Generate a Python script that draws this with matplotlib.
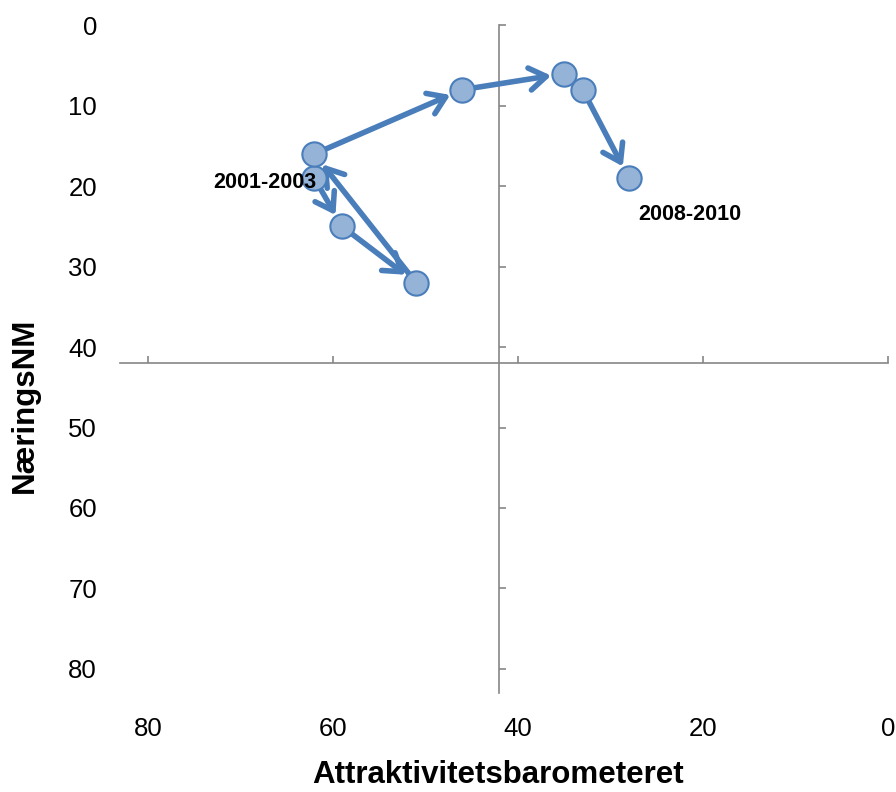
import matplotlib
matplotlib.use('Agg')
import matplotlib.pyplot as plt
import numpy as np

plt.rcParams['font.family'] = ['Liberation Sans', 'DejaVu Sans']

# ── Data ───────────────────────────────────────────────────────────────────────
periods       = ['2001-2003', '2002-2004', '2003-2005', '2004-2006',
                 '2005-2007', '2006-2008', '2007-2009', '2008-2010']
attraktivitet = [62, 59, 51, 62, 46, 35, 33, 28]
naering       = [19, 25, 32, 16, 8, 6, 8, 19]
labelled      = ['2001-2003', '2008-2010']

x_ticks = [80, 60, 40, 20, 0]
y_ticks = [0, 10, 20, 30, 40, 50, 60, 70, 80]
CROSS   = 42          # where the two axes cross
LIM     = 83

LINE = '#4A7EBB'
FILL = '#95B3D7'
AXIS = '#868686'
MS   = 17.5           # marker size (pt)

# ── Figure ─────────────────────────────────────────────────────────────────────
fig = plt.figure(figsize=(8.96, 7.92), dpi=100)
rect = [120 / 896, 1 - 693 / 792, 768 / 896, 667.7 / 792]

# base axes: only carries the tick labels (Excel "low" position)
ax = fig.add_axes(rect)
ax.set_xlim(LIM, 0)
ax.set_ylim(LIM, 0)
ax.set_xticks(x_ticks)
ax.set_yticks(y_ticks)
for s in ax.spines.values():
    s.set_visible(False)
ax.tick_params(axis='both', length=0, labelsize=18.5, labelcolor='black')
ax.tick_params(axis='x', pad=17)
ax.tick_params(axis='y', pad=16.5)

ax.set_xlabel('Attraktivitetsbarometeret', fontsize=22.5, fontweight='bold', va='center')
ax.xaxis.set_label_coords(0.492, -0.123)
ax.set_ylabel('NæringsNM', fontsize=22.5, fontweight='bold', va='center')
ax.yaxis.set_label_coords(-0.124, 0.431)

# overlay axes: crossing axis lines with tick marks, and the data
axc = fig.add_axes(rect, sharex=ax, sharey=ax)
axc.patch.set_visible(False)
axc.spines['top'].set_visible(False)
axc.spines['right'].set_visible(False)
for side in ['left', 'bottom']:
    axc.spines[side].set_position(('data', CROSS))
    axc.spines[side].set_color(AXIS)
    axc.spines[side].set_linewidth(1.2)
axc.tick_params(axis='both', direction='in', length=5, width=1.2, color=AXIS,
                labelleft=False, labelbottom=False)

# arrows between consecutive periods; too-short segments get no head
shrink = MS / 2 + 0.75
pts = axc.transData.transform(np.column_stack([attraktivitet, naering]))
for i in range(len(periods) - 1):
    dist_pt = np.hypot(*(pts[i + 1] - pts[i])) * 72 / fig.dpi
    style = '->,head_length=0.6,head_width=0.4' if dist_pt > 2 * shrink + 8 else '-'
    axc.annotate('', xy=(attraktivitet[i + 1], naering[i + 1]),
                 xytext=(attraktivitet[i], naering[i]),
                 arrowprops=dict(arrowstyle=style, color=LINE, lw=4,
                                 shrinkA=0, shrinkB=shrink, mutation_scale=20),
                 zorder=4)

axc.plot(attraktivitet, naering, ls='none', marker='o', ms=MS,
         mfc=FILL, mec=LINE, mew=1.5, zorder=5)

offsets = {'2001-2003': ((1.5, -3), 'right'), '2008-2010': ((6.5, -26.5), 'left')}
for p, xv, yv in zip(periods, attraktivitet, naering):
    if p in labelled:
        off, ha = offsets[p]
        axc.annotate(p, (xv, yv), xytext=off, textcoords='offset points',
                     ha=ha, va='center', fontsize=15.5, fontweight='bold', zorder=6)

fig.savefig('out.png', dpi=100)
